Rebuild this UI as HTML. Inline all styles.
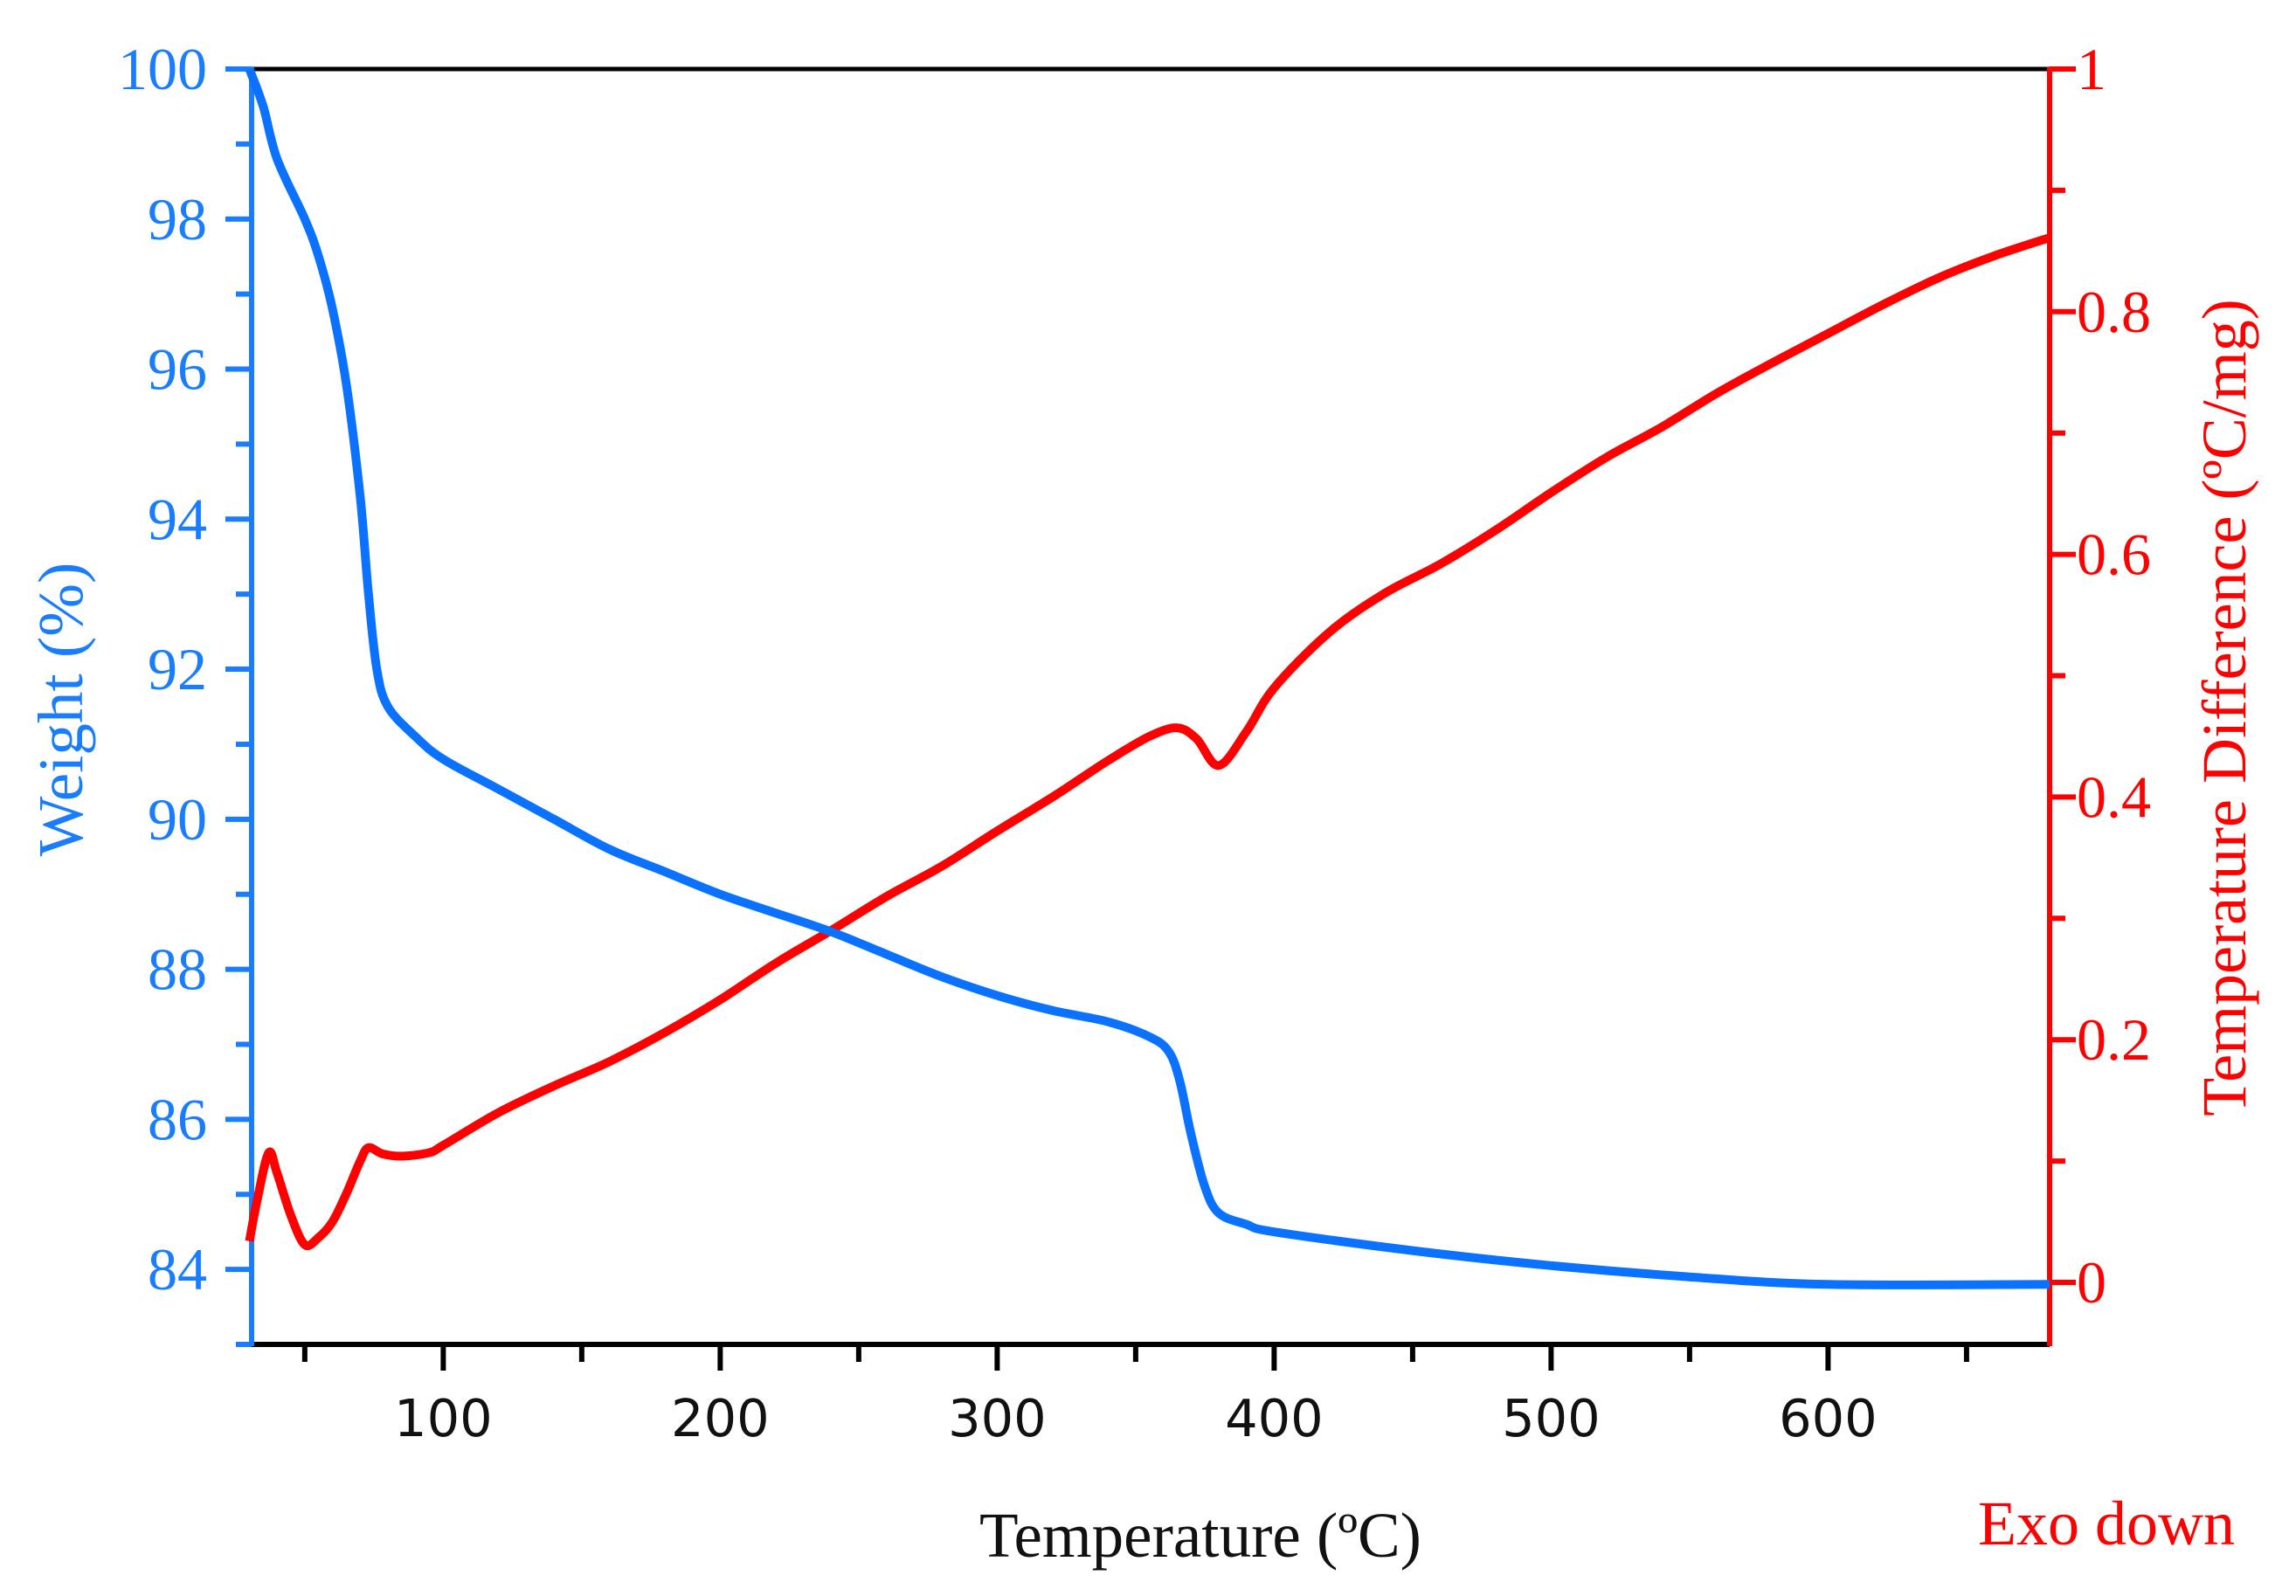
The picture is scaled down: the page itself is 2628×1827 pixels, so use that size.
<!DOCTYPE html>
<html><head><meta charset="utf-8"><style>
html,body{margin:0;padding:0;background:#fff;}
svg{display:block;}
.serif{font-family:"Liberation Serif",serif;}
.sans{font-family:"DejaVu Sans","Liberation Sans",sans-serif;}
</style></head><body>
<svg id="chart" width="2628" height="1827" viewBox="0 0 2628 1827" xmlns="http://www.w3.org/2000/svg">
<g id="axes"></g>
<g id="series"></g>
<text class="serif" x="0" y="0" transform="translate(94,812) rotate(-90)" text-anchor="middle" font-size="73" fill="#1a7cff">Weight (%)</text>
<text class="serif" x="0" y="0" transform="translate(2570,810) rotate(-90)" text-anchor="middle" font-size="72" fill="#ff0000">Temperature Difference (ºC/mg)</text>
<text class="serif" x="1374" y="1782" text-anchor="middle" font-size="73" fill="#111">Temperature (ºC)</text>
<text class="serif" x="2411" y="1768" text-anchor="middle" font-size="72" fill="#ff0000">Exo down</text>
</svg>
<script>
const tempW = [30,35,40,50,55,60,65,70,73,76,80,90,100,120,140,160,180,200,220,240,260,280,300,320,340,355,362,366,370,375,380,390,400,450,500,550,600,680];
const weight = [100,99.5,98.8,98,97.5,96.8,95.8,94.3,93,92,91.5,91.1,90.8,90.4,90,89.6,89.3,89.0,88.75,88.5,88.2,87.9,87.65,87.45,87.3,87.1,86.9,86.5,85.8,85.1,84.75,84.6,84.5,84.25,84.05,83.9,83.8,83.8];
const tempD = [30,33,37,40,45,50,55,60,65,70,73,78,85,95,100,120,140,160,180,200,220,240,260,280,300,320,340,355,365,372,380,390,400,420,440,460,480,500,520,540,560,580,600,620,640,660,680];
const tempDiff = [0.034,0.07,0.107,0.09,0.055,0.031,0.037,0.05,0.073,0.1,0.111,0.106,0.104,0.107,0.113,0.14,0.162,0.182,0.206,0.233,0.263,0.29,0.318,0.343,0.372,0.4,0.43,0.45,0.457,0.448,0.426,0.454,0.49,0.536,0.568,0.592,0.62,0.651,0.68,0.705,0.733,0.758,0.782,0.806,0.828,0.846,0.861];
const xTicks = [100,200,300,400,500,600];
const yTicks = [84,86,88,90,92,94,96,98,100];
const y2Ticks = [0,0.2,0.4,0.6,0.8,1];
const y2Labels = ["0","0.2","0.4","0.6","0.8","1"];

const L=288,R=2346,T=79,B=1539;
const X0=30.8,X1=680;
const x = t => L + (t-X0)/(X1-X0)*(R-L);
const yW = w => T + (100-w)/(100-83)*(B-T);
const yD = d => 1468 - d*1389;
const NS="http://www.w3.org/2000/svg";
const axes=document.getElementById('axes'), series=document.getElementById('series');
function mk(tag,attrs,parent,text){const e=document.createElementNS(NS,tag);for(const k in attrs)e.setAttribute(k,attrs[k]);if(text!==undefined)e.textContent=text;parent.appendChild(e);return e;}

let e;
e=mk('line',{x1:L,y1:T,x2:R,y2:T,stroke:'#000','stroke-width':5},axes);


e=mk('line',{x1:L,y1:B,x2:R,y2:B,stroke:'#000','stroke-width':6},axes);


e=mk('line',{x1:L,y1:T-2,x2:L,y2:B+2,stroke:'#1a7cff','stroke-width':6},axes);


e=mk('line',{x1:R,y1:T-2,x2:R,y2:B+2,stroke:'#ff0000','stroke-width':6},axes);



for(let t=50;t<=650;t+=50){
  const major=t%100===0;
  e=mk('line',{x1:x(t),y1:B,x2:x(t),y2:B+(major?30:20),stroke:'#000','stroke-width':6},axes);
  
  
}
xTicks.forEach(t=>{
  e=mk('text',{x:x(t),y:1644,'text-anchor':'middle','font-size':59,fill:'#111',class:'sans'},axes,String(t));
  
  
});
for(let w=83;w<=100;w++){
  const major=w%2===0;
  e=mk('line',{x1:L-(major?30:18),y1:yW(w),x2:L,y2:yW(w),stroke:'#1a7cff','stroke-width':6},axes);
  
  
}
yTicks.forEach(w=>{
  e=mk('text',{x:237,y:yW(w)+23,'text-anchor':'end','font-size':68,fill:'#1a7cff',class:'serif'},axes,String(w));
  
  
});
for(let i=0;i<=10;i++){
  const d=i/10, major=i%2===0;
  e=mk('line',{x1:R,y1:yD(d),x2:R+(major?30:18),y2:yD(d),stroke:'#ff0000','stroke-width':6},axes);
  
  
}
y2Ticks.forEach((d,i)=>{
  e=mk('text',{x:2377,y:yD(d)+23,'text-anchor':'start','font-size':68,fill:'#ff0000',class:'serif'},axes,y2Labels[i]);
  
  
});

function smooth(pts){
  let d='M'+pts[0][0].toFixed(1)+','+pts[0][1].toFixed(1);
  for(let i=0;i<pts.length-1;i++){
    const p0=pts[i-1]||pts[i],p1=pts[i],p2=pts[i+1],p3=pts[i+2]||p2;
    const c1=[p1[0]+(p2[0]-p0[0])/6,p1[1]+(p2[1]-p0[1])/6];
    const c2=[p2[0]-(p3[0]-p1[0])/6,p2[1]-(p3[1]-p1[1])/6];
    d+=' C'+c1[0].toFixed(1)+','+c1[1].toFixed(1)+' '+c2[0].toFixed(1)+','+c2[1].toFixed(1)+' '+p2[0].toFixed(1)+','+p2[1].toFixed(1);
  }
  return d;
}
e=mk('path',{d:smooth(tempD.map((t,i)=>[x(t),yD(tempDiff[i])])),fill:'none',stroke:'#ff0000','stroke-width':10,'stroke-linejoin':'round'},series);


e=mk('path',{d:smooth(tempW.map((t,i)=>[x(t),yW(weight[i])])),fill:'none',stroke:'#0a72ff','stroke-width':10,'stroke-linejoin':'round'},series);


</script>
</body></html>
